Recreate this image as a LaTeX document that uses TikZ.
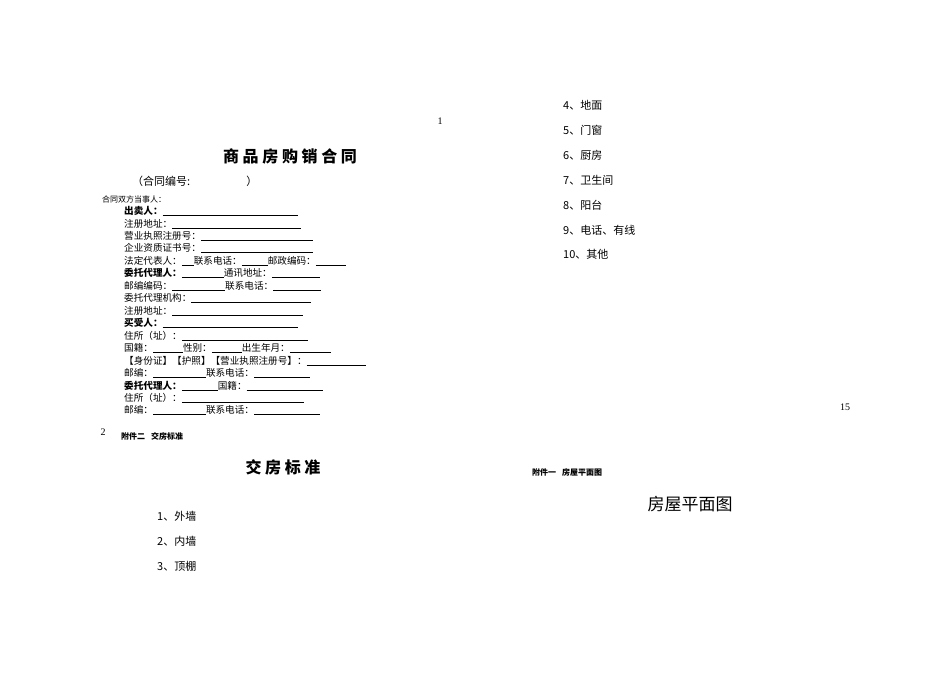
\documentclass[tikz,border=0pt]{standalone}
\usepackage{fontspec}
\setmainfont{Liberation Serif}
\newfontfamily\cjk{Noto Sans CJK SC}
\newcommand{\ul}[1]{\rule[-1.5pt]{#1pt}{0.4pt}}
\begin{document}
\begin{tikzpicture}[x=1pt,y=-1pt,
  row/.style={anchor=west,inner sep=0pt,font=\cjk\fontsize{9.6}{10}\selectfont},
  item/.style={anchor=west,inner sep=0pt,font=\cjk\fontsize{11}{12}\selectfont},
  small/.style={anchor=west,inner sep=0pt,font=\cjk\bfseries\fontsize{8}{9}\selectfont},
  num/.style={inner sep=0pt,font=\fontsize{10}{11}\selectfont}]
\useasboundingbox (0,0) rectangle (950,672);
\node[num] (p1) at (440,121) {1};
\node[inner sep=0pt,font=\cjk\bfseries\fontsize{16}{18}\selectfont] (t1) at (290,156) {商 品 房 购 销 合 同};
\node[anchor=west,inner sep=0pt,font=\cjk\fontsize{11}{12}\selectfont] (no) at (132,181) {（合同编号:\hspace{56pt}）};
\node[row,font=\cjk\fontsize{8}{9}\selectfont] (r0) at (102,199) {合同双方当事人：};
\node[row] (r1) at (124,211) {\textbf{出卖人：}\ul{135}};
\node[row] (r2) at (124,224) {注册地址：\ul{129}};
\node[row] (r3) at (124,236) {营业执照注册号：\ul{112}};
\node[row] (r4) at (124,248) {企业资质证书号：\ul{112}};
\node[row] (r5) at (124,261) {法定代表人：\ul{12}联系电话：\ul{26}邮政编码：\ul{30}};
\node[row] (r6) at (124,273) {\textbf{委托代理人：}\ul{42}通讯地址：\ul{48}};
\node[row] (r7) at (124,286) {邮编编码：\ul{53}联系电话：\ul{48}};
\node[row] (r8) at (124,298) {委托代理机构：\ul{120}};
\node[row] (r9) at (124,311) {注册地址：\ul{131}};
\node[row] (r10) at (124,323) {\textbf{买受人：}\ul{135}};
\node[row] (r11) at (124,336) {住所（址）：\ul{126}};
\node[row] (r12) at (124,348) {国籍：\ul{30}性别：\ul{30}出生年月：\ul{41}};
\node[row] (r13) at (124,361) {【身份证】【护照】【营业执照注册号】：\ul{59}};
\node[row] (r14) at (124,373) {邮编：\ul{53}联系电话：\ul{56}};
\node[row] (r15) at (124,386) {\textbf{委托代理人：}\ul{36}国籍：\ul{76}};
\node[row] (r16) at (124,398) {住所（址）：\ul{122}};
\node[row] (r17) at (124,410) {邮编：\ul{53}联系电话：\ul{66}};
\node[num] (p2) at (103,432) {2};
\node[small] (a2) at (121,436) {附件二\hspace{6pt}交房标准};
\node[inner sep=0pt,font=\cjk\bfseries\fontsize{16}{18}\selectfont] (t2) at (283,467) {交 房 标 准};
\node[item] (i1) at (157,516) {1、外墙};
\node[item] (i2) at (157,541) {2、内墙};
\node[item] (i3) at (157,566) {3、顶棚};
\node[item] (i4) at (563,105) {4、地面};
\node[item] (i5) at (563,130) {5、门窗};
\node[item] (i6) at (563,155) {6、厨房};
\node[item] (i7) at (563,180) {7、卫生间};
\node[item] (i8) at (563,205) {8、阳台};
\node[item] (i9) at (563,230) {9、电话、有线};
\node[item] (i10) at (563,254) {10、其他};
\node[num] (p15) at (845,407) {15};
\node[small] (a1) at (532,472) {附件一\hspace{6pt}房屋平面图};
\node[inner sep=0pt,font=\cjk\fontsize{17}{19}\selectfont] (t3) at (690,504) {房屋平面图};
\end{tikzpicture}
\end{document}
